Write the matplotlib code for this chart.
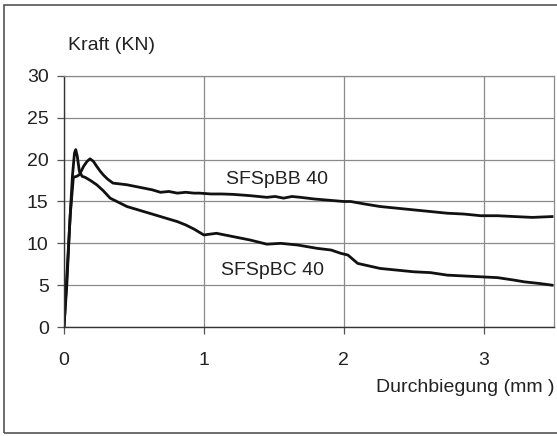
import matplotlib
matplotlib.use('Agg')
import matplotlib.pyplot as plt
from matplotlib.patches import Rectangle

plt.rcParams['font.family'] = ['Liberation Sans', 'DejaVu Sans']

# SFSpBB 40 (upper curve)
bb_x = [0.0, 0.02, 0.045, 0.067, 0.09, 0.11, 0.14, 0.165, 0.186, 0.21, 0.234, 0.26, 0.28,
        0.31, 0.35, 0.40, 0.45, 0.51, 0.57, 0.63, 0.69, 0.75, 0.81, 0.87, 0.93, 0.97, 1.05,
        1.13, 1.21, 1.33, 1.45, 1.51, 1.57, 1.63, 1.69, 1.79, 1.93, 2.0, 2.05, 2.15, 2.26,
        2.38, 2.50, 2.62, 2.74, 2.86, 2.98, 3.1, 3.22, 3.35, 3.49]
bb_y = [0.0, 6.0, 13.5, 17.9, 18.0, 18.2, 19.2, 19.8, 20.1, 19.8, 19.2, 18.6, 18.2,
        17.7, 17.2, 17.1, 17.0, 16.8, 16.6, 16.4, 16.1, 16.2, 16.0, 16.1, 16.0, 16.0, 15.9,
        15.9, 15.85, 15.7, 15.5, 15.6, 15.4, 15.6, 15.5, 15.3, 15.1, 15.0, 15.0, 14.7, 14.4,
        14.2, 14.0, 13.8, 13.6, 13.5, 13.3, 13.3, 13.2, 13.1, 13.2]

# SFSpBC 40 (lower curve)
bc_x = [0.0, 0.02, 0.04, 0.06, 0.075, 0.084, 0.095, 0.11, 0.13, 0.15, 0.19, 0.234, 0.28,
        0.33, 0.39, 0.45, 0.51, 0.57, 0.63, 0.69, 0.75, 0.81, 0.87, 0.93, 1.0, 1.09, 1.21,
        1.33, 1.45, 1.55, 1.67, 1.81, 1.91, 1.98, 2.03, 2.1, 2.18, 2.26, 2.38, 2.50, 2.62,
        2.74, 2.86, 2.98, 3.1, 3.22, 3.29, 3.4, 3.49]
bc_y = [0.0, 5.0, 12.0, 18.0, 20.8, 21.2, 20.4, 18.6, 18.0, 17.9, 17.5, 17.0, 16.3,
        15.4, 14.9, 14.4, 14.1, 13.8, 13.5, 13.2, 12.9, 12.6, 12.2, 11.7, 11.0, 11.2, 10.8,
        10.4, 9.9, 10.0, 9.8, 9.4, 9.2, 8.8, 8.6, 7.6, 7.3, 7.0, 6.8, 6.6, 6.5,
        6.2, 6.1, 6.0, 5.9, 5.6, 5.4, 5.2, 5.0]

x_ticks = [0, 1, 2, 3]
y_ticks = [0, 5, 10, 15, 20, 25, 30]

fig = plt.figure(figsize=(5.57, 4.36), dpi=100)
ax = fig.add_axes([64 / 557, 109 / 436, 489.5 / 557, 251 / 436])

ax.plot(bb_x, bb_y, color='#111111', lw=2.0)
ax.plot(bc_x, bc_y, color='#111111', lw=2.0)

ax.set_xlim(0, 3.5)
ax.set_ylim(0, 30)
ax.set_xticks(x_ticks)
ax.set_yticks(y_ticks)
ax.grid(True, color='#8a8a8a', lw=0.9)
ax.set_axisbelow(True)

for s in ['top', 'right']:
    ax.spines[s].set_color('#8a8a8a')
    ax.spines[s].set_linewidth(0.9)
for s in ['left', 'bottom']:
    ax.spines[s].set_color('#333333')
    ax.spines[s].set_linewidth(1.0)

ax.tick_params(axis='both', direction='out', length=5, width=0.9, color='#555555',
               labelsize=14, labelcolor='#222222')
ax.tick_params(axis='y', pad=6)
ax.tick_params(axis='x', pad=13)

fig.text(68 / 557, 1 - 45 / 436, 'Kraft (KN)', fontsize=14, color='#222222',
         ha='left', va='center')
fig.text(554 / 557, 1 - 387 / 436, 'Durchbiegung (mm )', fontsize=14, color='#222222',
         ha='right', va='center')
ax.text(1.16, 17.6, 'SFSpBB 40', fontsize=14, color='#222222', ha='left', va='center')
ax.text(1.12, 6.8, 'SFSpBC 40', fontsize=14, color='#222222', ha='left', va='center')

# outer frame of the scanned chart
fig.patches.append(Rectangle((4 / 557, 3 / 436), 560 / 557, 428 / 436,
                             transform=fig.transFigure, fill=False,
                             edgecolor='#555555', lw=1.2))

fig.savefig('out.png', dpi=100)
